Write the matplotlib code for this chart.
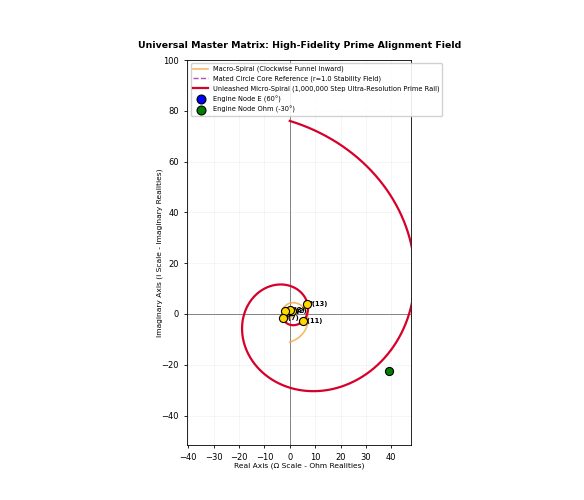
import numpy as np
import matplotlib
matplotlib.use("Agg")
import matplotlib.pyplot as plt

PHI = (1 + 5 ** 0.5) / 2

# Spiral parameters
micro_theta_start = 9 * np.pi / 2   # start of red spiral (r = phi^9 ~ 76 at top)
micro_theta_end = 0.0
macro_theta_start = 5 * np.pi / 2   # orange spiral starts at r = phi^5 ~ 11 at bottom
macro_theta_end = 0.0
core_radius = 1.0

primes = [2, 3, 5, 7, 11, 13]
prime_labels = ["P(2)", "P(3)", "P(5)", "P(7)", "P(11)", "P(13)"]

node_e_angle_deg = 60
node_e_radius = 1.3
node_ohm_angle_deg = -30
node_ohm_radius = 45

fig = plt.figure(figsize=(5.84, 5.0), dpi=100)
ax = fig.add_subplot(111)

# Macro spiral (mirror)
t = np.linspace(macro_theta_start, macro_theta_end, 3000)
r = PHI ** (2 * t / np.pi)
ax.plot(r * np.cos(-t), r * np.sin(-t), color="#f5a742", alpha=0.8, lw=1.2,
        label="Macro-Spiral (Clockwise Funnel Inward)", zorder=2)

# Core circle
a = np.linspace(0, 2 * np.pi, 400)
ax.plot(core_radius * np.cos(a), core_radius * np.sin(a), color="#b04fc0",
        ls="--", lw=1.0, label="Mated Circle Core Reference (r=1.0 Stability Field)", zorder=2)

# Micro spiral
t2 = np.linspace(micro_theta_start, micro_theta_end, 20000)
r2 = PHI ** (2 * t2 / np.pi)
ax.plot(r2 * np.cos(t2), r2 * np.sin(t2), color="#d7002a", lw=1.6,
        label="Unleashed Micro-Spiral (1,000,000 Step Ultra-Resolution Prime Rail)", zorder=3)

# Nodes
ea = np.deg2rad(node_e_angle_deg)
ax.scatter([node_e_radius * np.cos(ea)], [node_e_radius * np.sin(ea)], s=34,
           color="blue", edgecolor="black", lw=0.8, zorder=5, label="Engine Node E (60°)")
oa = np.deg2rad(node_ohm_angle_deg)
ax.scatter([node_ohm_radius * np.cos(oa)], [node_ohm_radius * np.sin(oa)], s=34,
           color="green", edgecolor="black", lw=0.8, zorder=5, label="Engine Node Ohm (-30°)")

# Prime points on the micro spiral
for p, lab in zip(primes, prime_labels):
    th = p * np.pi / 6
    rr = PHI ** (2 * th / np.pi)
    x, y = rr * np.cos(th), rr * np.sin(th)
    ax.scatter([x], [y], s=34, color="gold", edgecolor="black", lw=0.8, zorder=6)
    ax.annotate(lab, (x, y), xytext=(0, 0), textcoords="offset points",
                fontsize=4.8, fontweight="bold", zorder=4, va="center", ha="left")

ax.axhline(0, color="black", lw=0.6, alpha=0.6, zorder=1)
ax.axvline(0, color="black", lw=0.6, alpha=0.6, zorder=1)
ax.grid(True, alpha=0.15, lw=0.6)
ax.set_aspect("equal")
ax.set_xlim(-40.4, 47.9)
ax.set_ylim(-51.6, 100)
ax.set_xticks(np.arange(-40, 41, 10))
ax.set_yticks(np.arange(-40, 101, 20))
ax.tick_params(labelsize=6, length=2.5, width=0.6)
for s in ax.spines.values():
    s.set_linewidth(0.6)

ax.set_xlabel("Real Axis (Ω Scale - Ohm Realities)", fontsize=5.4, labelpad=0)
ax.set_ylabel("Imaginary Axis (i Scale - Imaginary Realities)", fontsize=5.4, labelpad=-1)
ax.set_title("Universal Master Matrix: High-Fidelity Prime Alignment Field",
             fontsize=6.75, fontweight="bold", pad=9)
ax.legend(loc="upper left", fontsize=4.8, framealpha=0.9, borderaxespad=0.5,
          handlelength=2.2, markerscale=1.1)

fig.savefig("out.png", dpi=100)
